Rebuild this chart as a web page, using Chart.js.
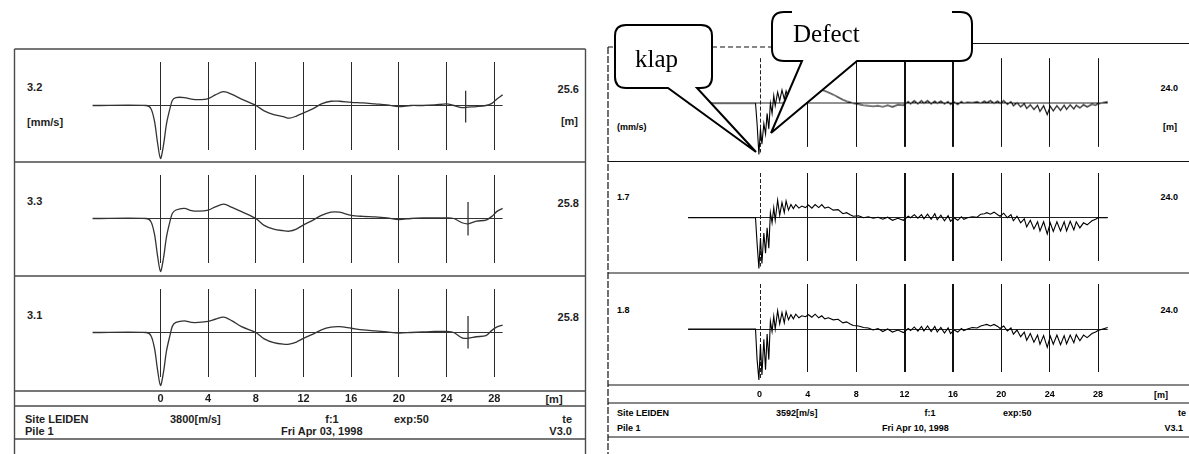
<!DOCTYPE html>
<html><head><meta charset="utf-8">
<script src="https://cdn.jsdelivr.net/npm/chart.js@4.4.1/dist/chart.umd.min.js"></script>
<style>
html,body{margin:0;padding:0;background:#fff;}
#wrap{position:relative;width:1189px;height:454px;overflow:hidden;background:#fff;}
canvas{position:absolute;}
svg{position:absolute;left:0;top:0;}
.t{position:absolute;font-family:"Liberation Sans",Arial,sans-serif;font-weight:bold;white-space:nowrap;transform:translateY(-50%);line-height:1;}
.c{transform:translate(-50%,-50%);}
.L{font-size:11px;color:#1e1e1e;}
.R{font-size:9px;color:#000;}
</style></head><body><div id="wrap">
<svg id="frames" width="1189" height="454">
 <g stroke="#4a4a4a" stroke-width="1.4" fill="none">
  <line x1="14.5" y1="49" x2="14.5" y2="454"/>
  <line x1="585.5" y1="49" x2="585.5" y2="454"/>
  <line x1="14.5" y1="49" x2="585.5" y2="49"/>
  <line x1="14.5" y1="162" x2="585.5" y2="162"/>
  <line x1="14.5" y1="276" x2="585.5" y2="276"/>
  <line x1="14.5" y1="391" x2="585.5" y2="391"/>
  <line x1="14.5" y1="406" x2="585.5" y2="406"/>
  <line x1="14.5" y1="439" x2="585.5" y2="439"/>
 </g>
 <g stroke="#111" stroke-width="1.2" fill="none">
  <line x1="608" y1="47" x2="608" y2="454" stroke-dasharray="7 2"/>
  <line x1="608" y1="47" x2="772" y2="47" stroke-dasharray="5 3"/>
  <line x1="972" y1="43.5" x2="1189" y2="43.5"/>
  <line x1="608" y1="161.5" x2="1189" y2="161.5"/>
  <line x1="608" y1="273" x2="1189" y2="273"/>
  <line x1="608" y1="385" x2="1189" y2="385"/>
  <line x1="608" y1="403" x2="1189" y2="403"/>
  <line x1="608" y1="437" x2="1189" y2="437"/>
 </g>
</svg>

<!-- left labels -->
<div class="t L" style="left:27px;top:87px">3.2</div>
<div class="t L" style="left:27px;top:122px">[mm/s]</div>
<div class="t L" style="right:610px;top:89px">25.6</div>
<div class="t L" style="right:611px;top:121px">[m]</div>
<div class="t L" style="left:27px;top:201px">3.3</div>
<div class="t L" style="right:610px;top:203px">25.8</div>
<div class="t L" style="left:27px;top:315px">3.1</div>
<div class="t L" style="right:610px;top:317px">25.8</div>
<div class="t L c" style="left:554px;top:398.5px">[m]</div>
<div class="t L" style="left:25px;top:419px">Site LEIDEN</div>
<div class="t L" style="left:170px;top:419px">3800[m/s]</div>
<div class="t L c" style="left:332px;top:419px">f:1</div>
<div class="t L" style="left:394px;top:419px">exp:50</div>
<div class="t L" style="right:617px;top:419px">te</div>
<div class="t L" style="left:25px;top:431px">Pile 1</div>
<div class="t L" style="left:281px;top:431px">Fri Apr 03, 1998</div>
<div class="t L" style="right:617px;top:431px">V3.0</div>

<!-- right labels -->
<div class="t R" style="left:617px;top:127px">(mm/s)</div>
<div class="t R" style="right:11px;top:88px">24.0</div>
<div class="t R" style="right:12px;top:127px">[m]</div>
<div class="t R" style="left:617px;top:197px">1.7</div>
<div class="t R" style="right:11px;top:197px">24.0</div>
<div class="t R" style="left:617px;top:310px">1.8</div>
<div class="t R" style="right:11px;top:310px">24.0</div>
<div class="t R c" style="left:1161px;top:394.5px">[m]</div>
<div class="t R" style="left:617px;top:413px">Site LEIDEN</div>
<div class="t R" style="left:776px;top:413px">3592[m/s]</div>
<div class="t R c" style="left:930px;top:413px">f:1</div>
<div class="t R" style="left:1003px;top:413px">exp:50</div>
<div class="t R" style="right:3px;top:413px">te</div>
<div class="t R" style="left:617px;top:428px">Pile 1</div>
<div class="t R" style="left:882px;top:428px">Fri Apr 10, 1998</div>
<div class="t R" style="right:6px;top:428px">V3.1</div>

<svg id="callouts" width="1189" height="454">
 <path d="M626 25 L701 25 Q712 25 712 36 L712 77 Q712 88 701 88 L697 88 L756 152 L668 88 L626 88 Q615 88 615 77 L615 36 Q615 25 626 25 Z" fill="#fff" stroke="#000" stroke-width="2" stroke-linejoin="miter"/>
 <text x="635" y="67" font-family="Liberation Serif, Times New Roman, serif" font-size="25" fill="#000">klap</text>
 <path d="M772 24 Q772 12 784 12 L960 12 Q972 12 972 24 L972 49 Q972 61 960 61 L857 61 L771 133 L802 61 L784 61 Q772 61 772 49 Z" fill="#fff" stroke="none"/>
 <path d="M792 12 L784 12 Q772 12 772 24 L772 49 Q772 61 784 61 L802 61 L771 133 L857 61 L960 61 Q972 61 972 49 L972 24 Q972 12 960 12 L952 12" fill="none" stroke="#000" stroke-width="2"/>
 <text x="793" y="42" font-family="Liberation Serif, Times New Roman, serif" font-size="25" fill="#000">Defect</text>
</svg>
</div>
<script>
// ---------- DATA ----------
const gridMeters = [0, 4, 8, 12, 16, 20, 24, 28];

// left recording (Apr 03): distance [m] and velocity traces
const leftDist = [-5.7,-1.2,-0.8,-0.5,-0.25,0,0.25,0.5,0.8,1.0,1.3,2.0,2.6,3.2,4.0,4.6,5.3,6.0,6.8,8.0,8.7,9.5,10.3,10.8,11.4,12.0,12.8,13.5,14.3,15.0,16.0,17.0,18.0,19.0,20.0,21.0,22.0,23.0,24.0,24.6,25.3,25.8,26.5,27.3,27.8,28.2,28.7];
const left32 = [0,0,-0.6,-3,-7,-10,-7.5,-3.5,-0.5,1.0,1.5,1.5,1.2,1.1,1.3,2.0,2.6,2.1,1.2,0,-1.0,-1.7,-2.1,-2.4,-2.0,-1.4,-0.6,0.3,0.8,0.8,0.6,0.5,0.3,0.1,-0.2,0,0,0.1,0.3,0,-0.4,-0.3,-0.2,0,0.4,1.2,2.0];
const left33 = [0,0,-0.6,-3,-7,-10,-7.5,-3.5,-0.5,1.0,1.6,1.9,1.5,1.4,1.6,2.2,2.7,2.1,1.3,0,-1.3,-2.0,-2.3,-2.4,-2.0,-1.2,-0.3,0.6,1.2,1.2,0.6,0.4,0.3,0.1,-0.2,0,0.1,0.1,0.1,0,-0.8,-1.0,-0.5,-0.3,0.4,1.3,1.9];
const left31 = [0,0,-0.6,-3,-7,-10,-7.5,-3.5,-0.5,1.2,1.9,2.2,1.9,1.9,2.1,2.5,2.9,2.2,1.1,0,-1.2,-1.9,-2.2,-2.2,-1.8,-1.1,-0.3,0.5,1.0,1.1,0.8,0.5,0.3,0.1,-0.1,0,0.1,0.2,0.2,0,-1.0,-1.1,-0.8,-0.6,0.4,1.0,1.4];
const leftToe = [25.6, 25.8, 25.8];
const leftToeTop = [2.8, 3.1, 3.1];
const leftToeBottom = [-3.2, -3.2, -3.0];

// right recording (Apr 10)
const rightDist = [-5.9,-0.33,-0.2,-0.05,0.08,0.2,0.36,0.5,0.63,0.77,0.9,1.04,1.18,1.3,1.5,1.67,1.86,2.05,2.2,2.4,2.6,2.8,3.0,3.26,3.5,3.8,4.05,4.33,4.6,4.9,5.15,5.4,5.7,6.1,6.5,6.9,7.2,7.5,7.75,8.2,8.6,9.0,9.4,9.8,10.2,10.6,11.0,11.45,11.9,12.3,12.5,12.8,13.1,13.4,13.6,13.9,14.2,14.5,14.7,15.0,15.3,15.6,15.8,16.1,16.4,16.7,16.9,17.2,17.6,18.0,18.3,18.6,18.8,19.1,19.4,19.7,19.9,20.2,20.5,20.8,21.0,21.3,21.6,21.9,22.1,22.4,22.7,23.0,23.2,23.5,23.8,24.05,24.3,24.6,24.9,25.2,25.4,25.7,26.0,26.2,26.5,26.8,27.1,27.5,27.8,28.0,28.8];
const rightTop = [0,0,-4,-10,-5,-8,-4,-6,-2,-5, 0,-2,1.5,-0.5,2.2,0.5,2.6,0.8,2.4,1.0, 2.0,1.4,2.2,1.8,2.4,2.3,2.6,2.5,2.7,2.7, 2.6,2.4,2.1,1.7,1.2,0.7,0.4,0.2,0,-0.2, -0.4,-0.5,-0.6,-0.5,-0.7,-0.4,-0.7,-0.3,-0.4,0.3, -0.1,0.5,-0.1,0.5,0,0.5,-0.1,0.4,0,0.4, -0.1,0.3,-0.2,0.2,-0.2,0.3,0,0.2,0.1,0.3, 0,0.4,0.1,0.5,0,0.4,0,0.5,-0.2,0.3, -0.5,0.1,-0.7,-0.1,-1.0,-0.3,-1.2,-0.4,-1.6,-0.5, -2.2,-0.6,-1.5,-0.5,-1.4,-0.4,-1.2,-0.3,-1.1,-0.4, -0.9,-0.3,-0.7,-0.2,-0.4,-0.1,0.3];
const right17 = [0,0,-5,-10,-4,-9,-3,-7,-2,-6, 1,-1,2,-0.5,3.5,0.5,3,1,3.3,1.5, 2.6,1.8,2.6,1.9,2.3,2.0,2.5,1.9,2.6,2.0, 2.6,1.9,2.1,1.5,1.6,0.8,1.0,0.6,0.3,0.4, 0,0.2,-0.1,0.1,-0.3,0.1,-0.5,-0.1,-0.5,0.3, 0,0.6,-0.1,0.6,-0.2,0.7,-0.3,0.8,-0.4,0.5, -0.6,0.4,-0.7,0,-0.5,0.2,-0.3,0,0.2,0.1, 0.7,0.8,1.0,0.7,1.1,0.6,0.3,0.9,0,0.6, -0.6,0.3,-1.0,-0.2,-1.8,-0.5,-2.2,-0.8,-2.6,-0.8, -3.2,-1.0,-2.7,-0.8,-2.6,-0.8,-2.6,-0.7,-2.4,-0.8, -2.0,-1.0,-1.4,-0.6,-0.3,0,0];
const right18 = [0,0,-6,-10,-3,-9,-2,-8,-1,-6, 1.5,-0.5,2.5,0,3.6,1,3.2,1.2,3.4,1.8, 2.8,2.0,2.9,2.2,2.6,2.4,2.8,2.3,2.9,2.2, 2.6,2.0,2.2,1.8,1.9,1.2,1.4,1.0,0.7,0.6, 0.3,0.2,-0.2,0.1,-0.5,0,-0.6,-0.2,-0.7,0.1, -0.3,0.4,-0.4,0.5,-0.4,0.6,-0.5,0.5,-0.6,0.3, -0.8,0.2,-0.9,-0.2,-0.6,0.1,-0.3,0,0.3,0.2, 0.6,0.8,0.9,0.6,0.9,0.5,0.1,0.6,-0.4,0.2, -1.0,-0.2,-1.5,-0.6,-2.2,-0.9,-2.6,-1.2,-3.0,-1.3, -3.6,-1.4,-3.0,-1.2,-3.1,-1.3,-2.9,-1.2,-2.7,-1.1, -2.3,-1.2,-1.7,-0.9,-0.6,-0.3,0.3];

// ---------- DRAWING ----------
const wrap = document.getElementById('wrap');
const callouts = document.getElementById('callouts');
const FONT = '"Liberation Sans", Arial, sans-serif';

const zeroLine = {
  id: 'zeroLine',
  beforeDatasetsDraw(chart, args, opts) {
    if (!opts || !opts.on) return;
    const x = chart.scales.x.getPixelForValue(0);
    const a = chart.chartArea, ctx = chart.ctx;
    ctx.save();
    ctx.setLineDash([4, 2]);
    ctx.strokeStyle = '#222';
    ctx.lineWidth = 1;
    ctx.beginPath();
    ctx.moveTo(Math.round(x) + 0.5, a.top);
    ctx.lineTo(Math.round(x) + 0.5, a.bottom + 6);
    ctx.stroke();
    ctx.restore();
  }
};

function makePanel(o) {
  const c = document.createElement('canvas');
  c.width = o.cw; c.height = o.ch;
  c.style.left = o.cl + 'px'; c.style.top = o.ct + 'px';
  c.style.width = o.cw + 'px'; c.style.height = o.ch + 'px';
  wrap.insertBefore(c, callouts);
  const aL = o.x0 + o.xMin * o.ppm, aR = o.x0 + o.xMax * o.ppm;
  new Chart(c, {
    type: 'line',
    data: { datasets: o.datasets },
    plugins: [zeroLine],
    options: {
      responsive: false, devicePixelRatio: 1, animation: false, events: [],
      layout: { padding: { left: aL - o.cl, right: o.cl + o.cw - aR, top: o.aT - o.ct, bottom: 0 } },
      plugins: { legend: { display: false }, tooltip: { enabled: false }, zeroLine: { on: o.dashZero } },
      scales: {
        x: {
          type: 'linear', min: o.xMin, max: o.xMax,
          afterBuildTicks: s => { s.ticks = gridMeters.map(v => ({ value: v })); },
          afterFit: s => { s.height = o.ct + o.ch - o.aB; },
          ticks: { display: o.showTicks, autoSkip: false, maxRotation: 0, padding: o.tickPad,
                   font: { family: FONT, size: o.tickSize, weight: 'bold' }, color: o.textColor,
                   callback: v => String(v) },
          grid: { drawTicks: false,
                  color: ctx => (o.dashZero && ctx.tick && ctx.tick.value === 0) ? 'rgba(0,0,0,0)' : o.gridColor,
                  lineWidth: ctx => (o.boldGrid && ctx.tick && o.boldGrid.includes(ctx.tick.value)) ? 2 : 1 },
          border: { display: false }
        },
        y: {
          type: 'linear', min: o.yMin, max: o.yMax,
          afterBuildTicks: s => { s.ticks = [{ value: 0 }]; },
          afterFit: s => { s.width = 0; },
          ticks: { display: false },
          grid: { drawTicks: false, color: o.baseColor, lineWidth: 1 },
          border: { display: false }
        }
      }
    }
  });
}

function series(xs, ys) { return xs.map((x, i) => ({ x: x, y: ys[i] })); }

// left side
const leftTraces = [left32, left33, left31];
const leftTopsPx = [49, 162, 276];
const leftCanvasH = [113, 114, 130];
leftTraces.forEach((tr, p) => {
  const T = leftTopsPx[p];
  const aT = T + 13, base = T + 56.5, aB = T + 101, unit = 5.3;
  makePanel({
    cl: 15, ct: T, cw: 570, ch: leftCanvasH[p],
    x0: 160.5, ppm: 11.92, xMin: -5.7, xMax: 28.7,
    aT: aT, aB: aB, yMax: (base - aT) / unit, yMin: -(aB - base) / unit,
    showTicks: p === 2, tickPad: 14.9, tickSize: 11, textColor: '#1e1e1e',
    gridColor: '#2a2a2a', baseColor: '#333', dashZero: false, boldGrid: null,
    datasets: [
      { data: series(leftDist, tr), borderColor: '#333', borderWidth: 1.3, pointRadius: 0, tension: 0.3, clip: false },
      { data: [{ x: leftToe[p], y: leftToeTop[p] }, { x: leftToe[p], y: leftToeBottom[p] }], borderColor: '#333', borderWidth: 1.3, pointRadius: 0, clip: false }
    ]
  });
});

// right side
const rightTraces = [rightTop, right17, right18];
const rightTopsPx = [47, 161.5, 273];
const rightCanvasH = [114.5, 111.5, 130];
rightTraces.forEach((tr, p) => {
  const T = rightTopsPx[p];
  const aT = T + 11, base = T + 56, aB = T + 99, unit = 5.1;
  makePanel({
    cl: 609, ct: T, cw: 580, ch: rightCanvasH[p],
    x0: 759.5, ppm: 12.09, xMin: -5.9, xMax: 28.8,
    aT: aT, aB: aB, yMax: (base - aT) / unit, yMin: -(aB - base) / unit,
    showTicks: p === 2, tickPad: 17.1, tickSize: 9, textColor: '#000',
    gridColor: '#111', baseColor: '#222', dashZero: true, boldGrid: [12, 16],
    datasets: [
      { data: series(rightDist, tr), borderColor: '#000', borderWidth: 1.1, pointRadius: 0, tension: 0, clip: false }
    ]
  });
});
</script>
</body></html>
